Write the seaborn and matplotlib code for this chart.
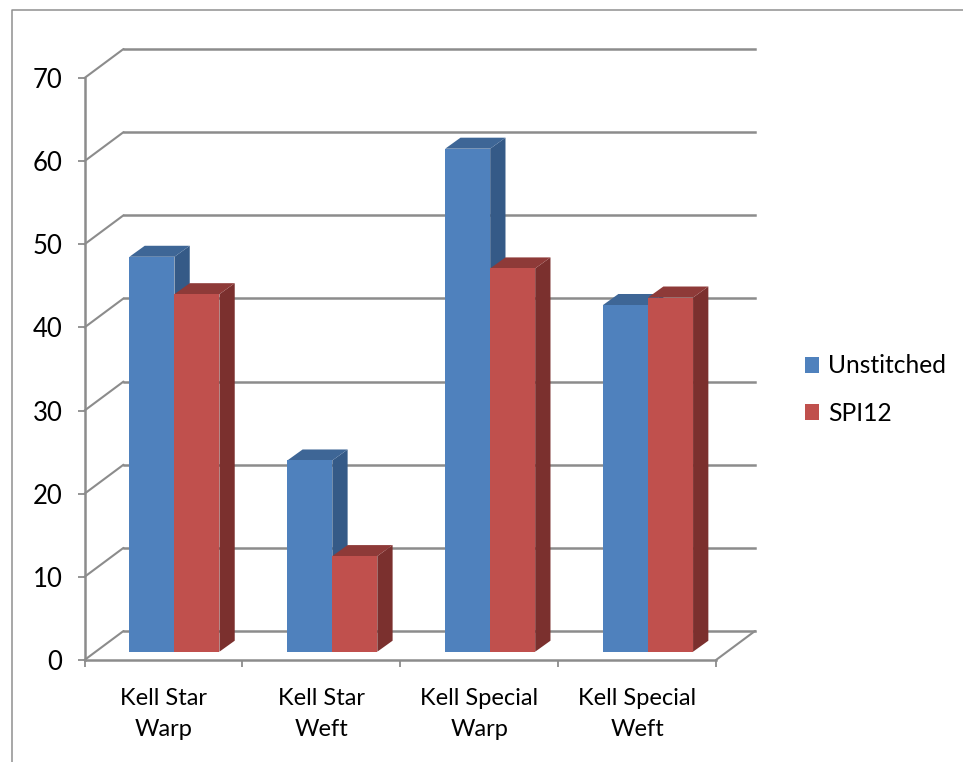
import matplotlib
matplotlib.use("Agg")
import matplotlib.pyplot as plt
from matplotlib.patches import Polygon
from matplotlib.lines import Line2D
from matplotlib.transforms import Affine2D
import pandas as pd
import seaborn as sns

categories = ["Kell Star\nWarp", "Kell Star\nWeft", "Kell Special\nWarp", "Kell Special\nWeft"]
unstitched = [47.5, 23.0, 60.5, 41.7]
spi12 = [43.0, 11.5, 46.1, 42.6]
series_names = ["Unstitched", "SPI12"]
y_ticks = [0, 10, 20, 30, 40, 50, 60, 70]

GREY = "#8C8C8C"
FRONT = {"Unstitched": "#4F81BD", "SPI12": "#C0504D"}
SIDE = {"Unstitched": "#355A87", "SPI12": "#7B302E"}
TOP = {"Unstitched": "#3E6696", "SPI12": "#8E3A38"}

# Pseudo-3D offsets, in pixels
WALL_DX, WALL_DY = 39, 29
BAR_SHIFT_X, BAR_SHIFT_Y = 11, 8.3
BAR_DX, BAR_DY = 15.3, 11

W, H = 963, 762
sns.set_theme(style="white")
plt.rcParams["font.family"] = ["Lato", "DejaVu Sans"]

fig = plt.figure(figsize=(W / 100, H / 100), dpi=100)
left, right, bottom_y, top_y = 84.5, 716, 660, 78
ax = fig.add_axes([left / W, 1 - bottom_y / H, (right - left) / W, (bottom_y - top_y) / H])

df = pd.DataFrame({
    "fabric": categories * 2,
    "series": [series_names[0]] * 4 + [series_names[1]] * 4,
    "value": unstitched + spi12,
})
sns.barplot(data=df, x="fabric", y="value", hue="series", hue_order=series_names,
            palette=FRONT, width=0.57, gap=0, saturation=1, ax=ax, linewidth=0)

ax.set_xlim(-0.5, 3.5)
ax.set_ylim(0, 70)
ax.set_xlabel("")
ax.set_ylabel("")

# Back wall gridlines and the floor outline
wall = ax.transData + Affine2D().translate(WALL_DX, WALL_DY)
to_pixels = ax.transData
for v in y_ticks:
    ax.plot([-0.5, 3.5], [v, v], transform=wall, color=GREY, lw=1.8, clip_on=False, zorder=1,
            solid_capstyle="projecting")
    (fx, fy), (bx, by) = to_pixels.transform([(-0.5, v), (-0.5, v)]) + [[0, 0], [WALL_DX, WALL_DY]]
    ax.add_line(Line2D([fx, bx], [fy, by], transform=None, color=GREY, lw=1.5,
                       zorder=1, clip_on=False))
(fx, fy) = to_pixels.transform((3.5, 0))
ax.add_line(Line2D([fx, fx + WALL_DX], [fy, fy + WALL_DY], transform=None, color=GREY, lw=1.5,
                   zorder=1, clip_on=False))

# Shift each bar onto the floor and give it a side and a top face
shift = ax.transData + Affine2D().translate(BAR_SHIFT_X, BAR_SHIFT_Y)
series_of_bar = []
for container, name in zip(ax.containers, series_names):
    series_of_bar += [(bar, name) for bar in container]
series_of_bar.sort(key=lambda item: item[0].get_x())

for i, (bar, name) in enumerate(series_of_bar):
    base = 3 + 3 * i
    x0 = bar.get_x()
    x1 = x0 + bar.get_width()
    h = bar.get_height()
    (px0, py0), (px1, py1) = shift.transform([(x0, 0), (x1, h)])
    bar.set_transform(shift)
    bar.set_clip_on(False)
    bar.set_zorder(base + 2)
    side = [(px1, py0), (px1 + BAR_DX, py0 + BAR_DY), (px1 + BAR_DX, py1 + BAR_DY), (px1, py1)]
    top = [(px0, py1), (px0 + BAR_DX, py1 + BAR_DY), (px1 + BAR_DX, py1 + BAR_DY), (px1, py1)]
    ax.add_patch(Polygon(side, closed=True, transform=None, facecolor=SIDE[name],
                         edgecolor="none", zorder=base, clip_on=False))
    ax.add_patch(Polygon(top, closed=True, transform=None, facecolor=TOP[name],
                         edgecolor="none", zorder=base + 1, clip_on=False))

# Axes: ticks at category boundaries, labels centred between them
sns.despine(ax=ax, top=True, right=True)
for s in ("left", "bottom"):
    ax.spines[s].set_color(GREY)
    ax.spines[s].set_linewidth(1.8)
ax.set_xticks([-0.5, 0.5, 1.5, 2.5, 3.5])
ax.set_xticklabels([])
ax.set_xticks(range(4), minor=True)
ax.set_xticklabels(categories, minor=True, fontsize=17, color="black", linespacing=1.6)
ax.set_yticks(y_ticks)
ax.set_yticklabels([str(v) for v in y_ticks], fontsize=18.5, color="black")
ax.tick_params(axis="x", which="major", length=5, width=1.3, color=GREY, bottom=True)
ax.tick_params(axis="x", which="minor", length=0, pad=20)
ax.tick_params(axis="y", which="major", length=5, width=1.3, color=GREY, left=True, pad=11)

# Legend to the right of the chart
handles, labels = ax.get_legend_handles_labels()
ax.legend(handles, labels, loc="center left", frameon=False, fontsize=17.7,
          bbox_to_anchor=(804.5 / W, 1 - 389.5 / H), bbox_transform=fig.transFigure,
          handlelength=0.6, handleheight=0.6, handletextpad=0.35, labelspacing=0.98,
          borderaxespad=0, borderpad=0, labelcolor="black")

# Thin frame along the top and left of the picture
fig.add_artist(Line2D([11.5 / W, 11.5 / W, 1], [0, 1 - 9.5 / H, 1 - 9.5 / H],
                      transform=fig.transFigure, color="#8F8F8F", lw=1.1))

fig.savefig("out.png", dpi=100, facecolor="white")
